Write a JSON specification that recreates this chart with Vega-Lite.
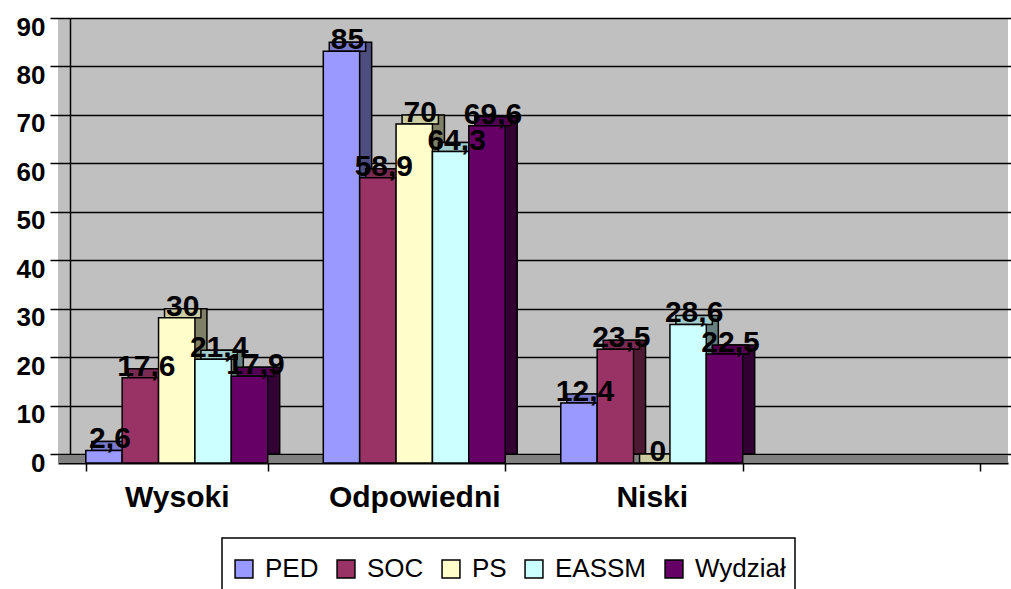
{
  "$schema": "https://vega.github.io/schema/vega-lite/v6.json",
  "width": 950,
  "height": 445,
  "autosize": {"type": "none"},
  "padding": {"left": 58, "top": 18, "right": 3, "bottom": 126},
  "background": "white",
  "config": {
    "view": {"stroke": null, "fill": "#C0C0C0"},
    "locale": {"number": {"decimal": ",", "thousands": " ", "grouping": [3], "currency": ["", ""]}},
    "axisY": {
      "offset": -12,
      "grid": true,
      "domainColor": "black",
      "domainWidth": 1.5,
      "tickColor": "black",
      "tickWidth": 1.5,
      "tickSize": 20,
      "tickOffset": -9,
      "labelOffset": 9,
      "labelPadding": 5,
      "gridColor": "black",
      "gridWidth": 1.5,
      "gridOpacity": 1,
      "labelFont": "Liberation Sans",
      "labelFontWeight": "bold",
      "labelFontSize": 26,
      "labelColor": "black",
      "values": [0, 10, 20, 30, 40, 50, 60, 70, 80, 90],
      "title": null
    },
    "axisX": {
      "domainColor": "black",
      "domainWidth": 2,
      "tickColor": "black",
      "tickWidth": 1.5,
      "tickSize": 8,
      "tickBand": "extent",
      "labelPadding": 11,
      "labelAngle": 0,
      "labelFont": "Liberation Sans",
      "labelFontWeight": "bold",
      "labelFontSize": 30,
      "labelColor": "black",
      "grid": false,
      "title": null
    },
    "legend": {
      "orient": "none",
      "legendX": 164,
      "legendY": 520,
      "direction": "horizontal",
      "strokeColor": "black",
      "strokeWidth": 1.5,
      "fillColor": "white",
      "padding": 9,
      "symbolType": "square",
      "symbolSize": 320,
      "symbolStrokeColor": "black",
      "symbolStrokeWidth": 1.5,
      "labelFont": "Liberation Sans",
      "labelFontSize": 26,
      "labelColor": "black",
      "labelOffset": 8,
      "columnPadding": 14,
      "clipHeight": 44,
      "title": null
    }
  },
  "data": {
    "values": [
      {"category": "Wysoki", "series": "PED", "value": 2.6},
      {"category": "Wysoki", "series": "SOC", "value": 17.6},
      {"category": "Wysoki", "series": "PS", "value": 30},
      {"category": "Wysoki", "series": "EASSM", "value": 21.4},
      {"category": "Wysoki", "series": "Wydział", "value": 17.9},
      {"category": "Odpowiedni", "series": "PED", "value": 85},
      {"category": "Odpowiedni", "series": "SOC", "value": 58.9},
      {"category": "Odpowiedni", "series": "PS", "value": 70},
      {"category": "Odpowiedni", "series": "EASSM", "value": 64.3},
      {"category": "Odpowiedni", "series": "Wydział", "value": 69.6},
      {"category": "Niski", "series": "PED", "value": 12.4},
      {"category": "Niski", "series": "SOC", "value": 23.5},
      {"category": "Niski", "series": "PS", "value": 0},
      {"category": "Niski", "series": "EASSM", "value": 28.6},
      {"category": "Niski", "series": "Wydział", "value": 22.5}
    ]
  },
  "layer": [
    {
      "mark": {"type": "rect", "color": "#808080", "y2Offset": -8},
      "encoding": {
        "y": {"datum": 0, "type": "quantitative", "scale": {"domain": [0, 91.86], "nice": false, "zero": true}, "axis": {"title": null, "grid": true}},
        "y2": {"datum": 0}
      }
    },
    {
      "encoding": {
        "x": {
          "field": "category",
          "type": "nominal",
          "sort": null,
          "scale": {"domain": ["Wysoki", "Odpowiedni", "Niski", " "], "paddingInner": 0.234, "paddingOuter": 0.117},
          "axis": {"title": null}
        }
      },
      "resolve": {"scale": {"color": "independent", "xOffset": "independent"}, "legend": {"color": "independent"}},
      "layer": [
        {
          "mark": {"type": "bar", "yOffset": -9, "y2Offset": -9, "stroke": "black", "strokeWidth": 1.5},
          "encoding": {
            "xOffset": {"field": "series", "type": "nominal", "scale": {"domain": ["PED", "SOC", "PS", "EASSM", "Wydział"], "range": [12, 193.9]}},
            "y": {"field": "value", "type": "quantitative", "scale": {"domain": [0, 91.86], "nice": false}, "axis": {"title": null, "grid": true}},
            "y2": {"datum": 0},
            "color": {"field": "series", "type": "nominal", "legend": null,
              "scale": {"domain": ["PED", "SOC", "PS", "EASSM", "Wydział"], "range": ["#4D4D80", "#4D1A33", "#808066", "#668080", "#330033"]}}
          }
        },
        {
          "mark": {"type": "bar", "yOffset": -9, "y2Offset": 0, "stroke": "black", "strokeWidth": 1.5},
          "encoding": {
            "xOffset": {"field": "series", "type": "nominal", "scale": {"domain": ["PED", "SOC", "PS", "EASSM", "Wydział"], "range": [6, 187.9]}},
            "y": {"field": "value", "type": "quantitative", "axis": {"title": null, "grid": true}},
            "y2": {"field": "value"},
            "color": {"field": "series", "type": "nominal", "legend": null,
              "scale": {"domain": ["PED", "SOC", "PS", "EASSM", "Wydział"], "range": ["#7A7ACC", "#7A2952", "#CCCCA3", "#A3CCCC", "#520052"]}}
          }
        },
        {
          "mark": {"type": "bar", "stroke": "black", "strokeWidth": 1.5},
          "encoding": {
            "xOffset": {"field": "series", "type": "nominal", "scale": {"domain": ["PED", "SOC", "PS", "EASSM", "Wydział"], "range": [0, 181.9]}},
            "y": {"field": "value", "type": "quantitative", "axis": {"title": null, "grid": true}},
            "color": {"field": "series", "type": "nominal",
              "scale": {"domain": ["PED", "SOC", "PS", "EASSM", "Wydział"], "range": ["#9999FF", "#993366", "#FFFFCC", "#CCFFFF", "#660066"]}}
          }
        },
        {
          "mark": {"type": "text", "font": "Liberation Sans", "fontWeight": "bold", "fontSize": 30, "baseline": "alphabetic", "align": "center", "dx": 6, "dy": -2, "color": "black"},
          "encoding": {
            "xOffset": {"field": "series", "type": "nominal", "scale": {"domain": ["PED", "SOC", "PS", "EASSM", "Wydział"], "range": [0, 181.9]}},
            "y": {"field": "value", "type": "quantitative", "axis": {"title": null, "grid": true}},
            "text": {"field": "value", "type": "quantitative", "format": ".3~g"}
          }
        }
      ]
    }
  ]
}
